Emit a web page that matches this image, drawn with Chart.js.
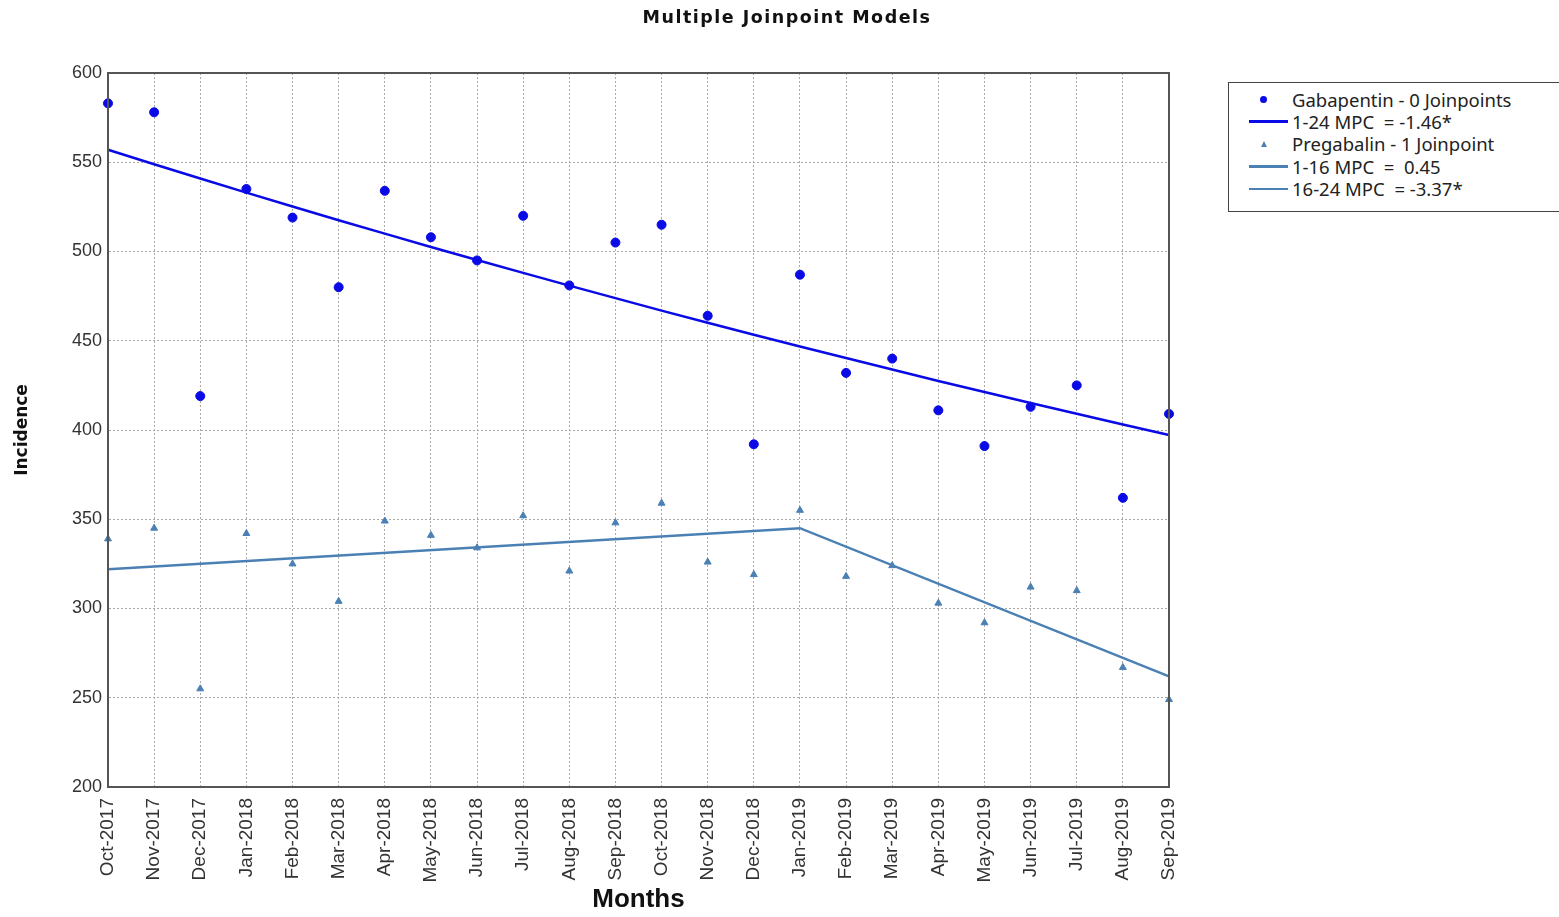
<!DOCTYPE html>
<html>
<head>
<meta charset="utf-8">
<title>Multiple Joinpoint Models</title>
<script src="https://cdn.jsdelivr.net/npm/chart.js@4.4.0/dist/chart.umd.min.js"></script>
<style>
  html, body { margin: 0; padding: 0; background: #fff; }
  #wrap { position: relative; width: 1559px; height: 917px; }
  #title {
    position: absolute; left: 0; top: 7px; width: 1574px; text-align: center;
    font-family: "DejaVu Sans", sans-serif; font-weight: bold; font-size: 17.5px;
    letter-spacing: 1.5px; color: #111;
  }
  #legend {
    position: absolute; left: 1228px; top: 82px; width: 336px; height: 130px;
    border: 1.5px solid #444; background: #fff; box-sizing: border-box;
    font-family: "Noto Sans", "Open Sans", sans-serif; font-size: 18.5px; color: #222;
    padding-top: 5px;
  }
  .row { height: 22.4px; display: flex; align-items: center; }
  .mk { width: 63px; display: flex; justify-content: center; align-items: center; }
  .dot { width: 7px; height: 7px; border-radius: 50%; background: #0a0ae6; margin-left: 6px; }
  .tri { width: 0; height: 0; border-left: 3.5px solid transparent; border-right: 3.5px solid transparent; border-bottom: 6px solid #4a80b4; margin-left: 6px; }
  .ln { width: 39px; height: 2.5px; margin-left: 16px; }
</style>
</head>
<body>
<div id="wrap">
  <canvas id="myChart" width="1559" height="917"></canvas>
  <div id="title">Multiple Joinpoint Models</div>
  <div id="legend">
    <div class="row"><div class="mk"><div class="dot"></div></div>Gabapentin - 0 Joinpoints</div>
    <div class="row"><div class="mk"><div class="ln" style="background:#0a0ae6"></div></div>1-24 MPC&nbsp; = -1.46*</div>
    <div class="row"><div class="mk"><div class="tri"></div></div>Pregabalin - 1 Joinpoint</div>
    <div class="row"><div class="mk"><div class="ln" style="background:#4a80b4"></div></div>1-16 MPC&nbsp; = &nbsp;0.45</div>
    <div class="row"><div class="mk"><div class="ln" style="background:#4a80b4"></div></div>16-24 MPC&nbsp; = -3.37*</div>
  </div>
</div>
<script>
// months on the x axis
const months = ['Oct-2017', 'Nov-2017', 'Dec-2017', 'Jan-2018', 'Feb-2018', 'Mar-2018',
  'Apr-2018', 'May-2018', 'Jun-2018', 'Jul-2018', 'Aug-2018', 'Sep-2018',
  'Oct-2018', 'Nov-2018', 'Dec-2018', 'Jan-2019', 'Feb-2019', 'Mar-2019',
  'Apr-2019', 'May-2019', 'Jun-2019', 'Jul-2019', 'Aug-2019', 'Sep-2019'];

// observed incidence
const gabapentin = [583, 578, 419, 535, 519, 480, 534, 508, 495, 520, 481, 505,
  515, 464, 392, 487, 432, 440, 411, 391, 413, 425, 362, 409];
const pregabalin = [339, 345, 255, 342, 325, 304, 349, 341, 334, 352, 321, 348,
  359, 326, 319, 355, 318, 324, 303, 292, 312, 310, 267, 249];

// joinpoint model fits
const gabapentinFit = [557, 548.9, 540.9, 533.0, 525.2, 517.5, 510.0, 502.5, 495.2, 488.0, 480.9, 473.9,
  466.9, 460.1, 453.4, 446.8, 440.3, 433.9, 427.5, 421.3, 415.1, 409.1, 403.1, 397.2];
const pregabalinFit = [322, null, null, null, null, null, null, null, null, null, null, null,
  null, null, null, 345, null, null, null, null, null, null, null, 262];

const yTicks = { min: 200, max: 600, step: 50 };

const gabColor = '#0a0ae6';
const pregColor = '#4a80b4';

// box around the plot area
const frame = {
  id: 'frame',
  afterDraw(chart) {
    const a = chart.chartArea, c = chart.ctx;
    c.save();
    c.setLineDash([]);
    c.strokeStyle = '#555';
    c.lineWidth = 2;
    c.strokeRect(a.left, a.top, a.right - a.left, a.bottom - a.top);
    c.restore();
  }
};

const ctx = document.getElementById('myChart').getContext('2d');
new Chart(ctx, {
  type: 'line',
  data: {
    labels: months,
    datasets: [
      { label: 'Gabapentin', data: gabapentin, showLine: false, pointStyle: 'circle',
        pointRadius: 4.5, backgroundColor: gabColor, borderColor: gabColor, order: 1 },
      { label: 'Gabapentin fit', data: gabapentinFit, pointRadius: 0, tension: 0,
        borderColor: gabColor, borderWidth: 2.5, order: 2 },
      { label: 'Pregabalin', data: pregabalin, showLine: false, pointStyle: 'triangle',
        pointRadius: 4, backgroundColor: pregColor, borderColor: pregColor, order: 1 },
      { label: 'Pregabalin fit', data: pregabalinFit, spanGaps: true, pointRadius: 0,
        borderColor: pregColor, borderWidth: 2.5, order: 2 }
    ]
  },
  options: {
    responsive: false,
    animation: false,
    layout: { padding: { left: 0, right: 390, top: 73, bottom: 0 } },
    plugins: {
      legend: { display: false },
      tooltip: { enabled: false },
      title: { display: false }
    },
    scales: {
      x: {
        offset: false,
        afterFit(scale) { scale.height = 130; },
        grid: { color: '#a8a8a8', drawTicks: false },
        border: { color: '#555', width: 2, dash: [2, 2] },
        ticks: { color: '#333', padding: 11, minRotation: 90, maxRotation: 90, autoSkip: false,
          font: { family: 'Liberation Sans', size: 19 } },
        title: { display: true, text: 'Months', color: '#111', padding: { top: 2, bottom: 2 },
          font: { family: 'Liberation Sans', size: 26, weight: 'bold' } }
      },
      y: {
        min: yTicks.min,
        max: yTicks.max,
        afterFit(scale) { scale.width = 108; },
        grid: { color: '#a8a8a8', drawTicks: false },
        border: { color: '#555', width: 2, dash: [2, 2] },
        ticks: { stepSize: yTicks.step, color: '#333', padding: 6,
          font: { family: 'Liberation Sans', size: 18 } },
        title: { display: true, text: 'Incidence', color: '#111', padding: { top: 12, bottom: 0 },
          font: { family: 'DejaVu Sans', size: 17, weight: 'bold' } }
      }
    }
  },
  plugins: [frame]
});
</script>
</body>
</html>
